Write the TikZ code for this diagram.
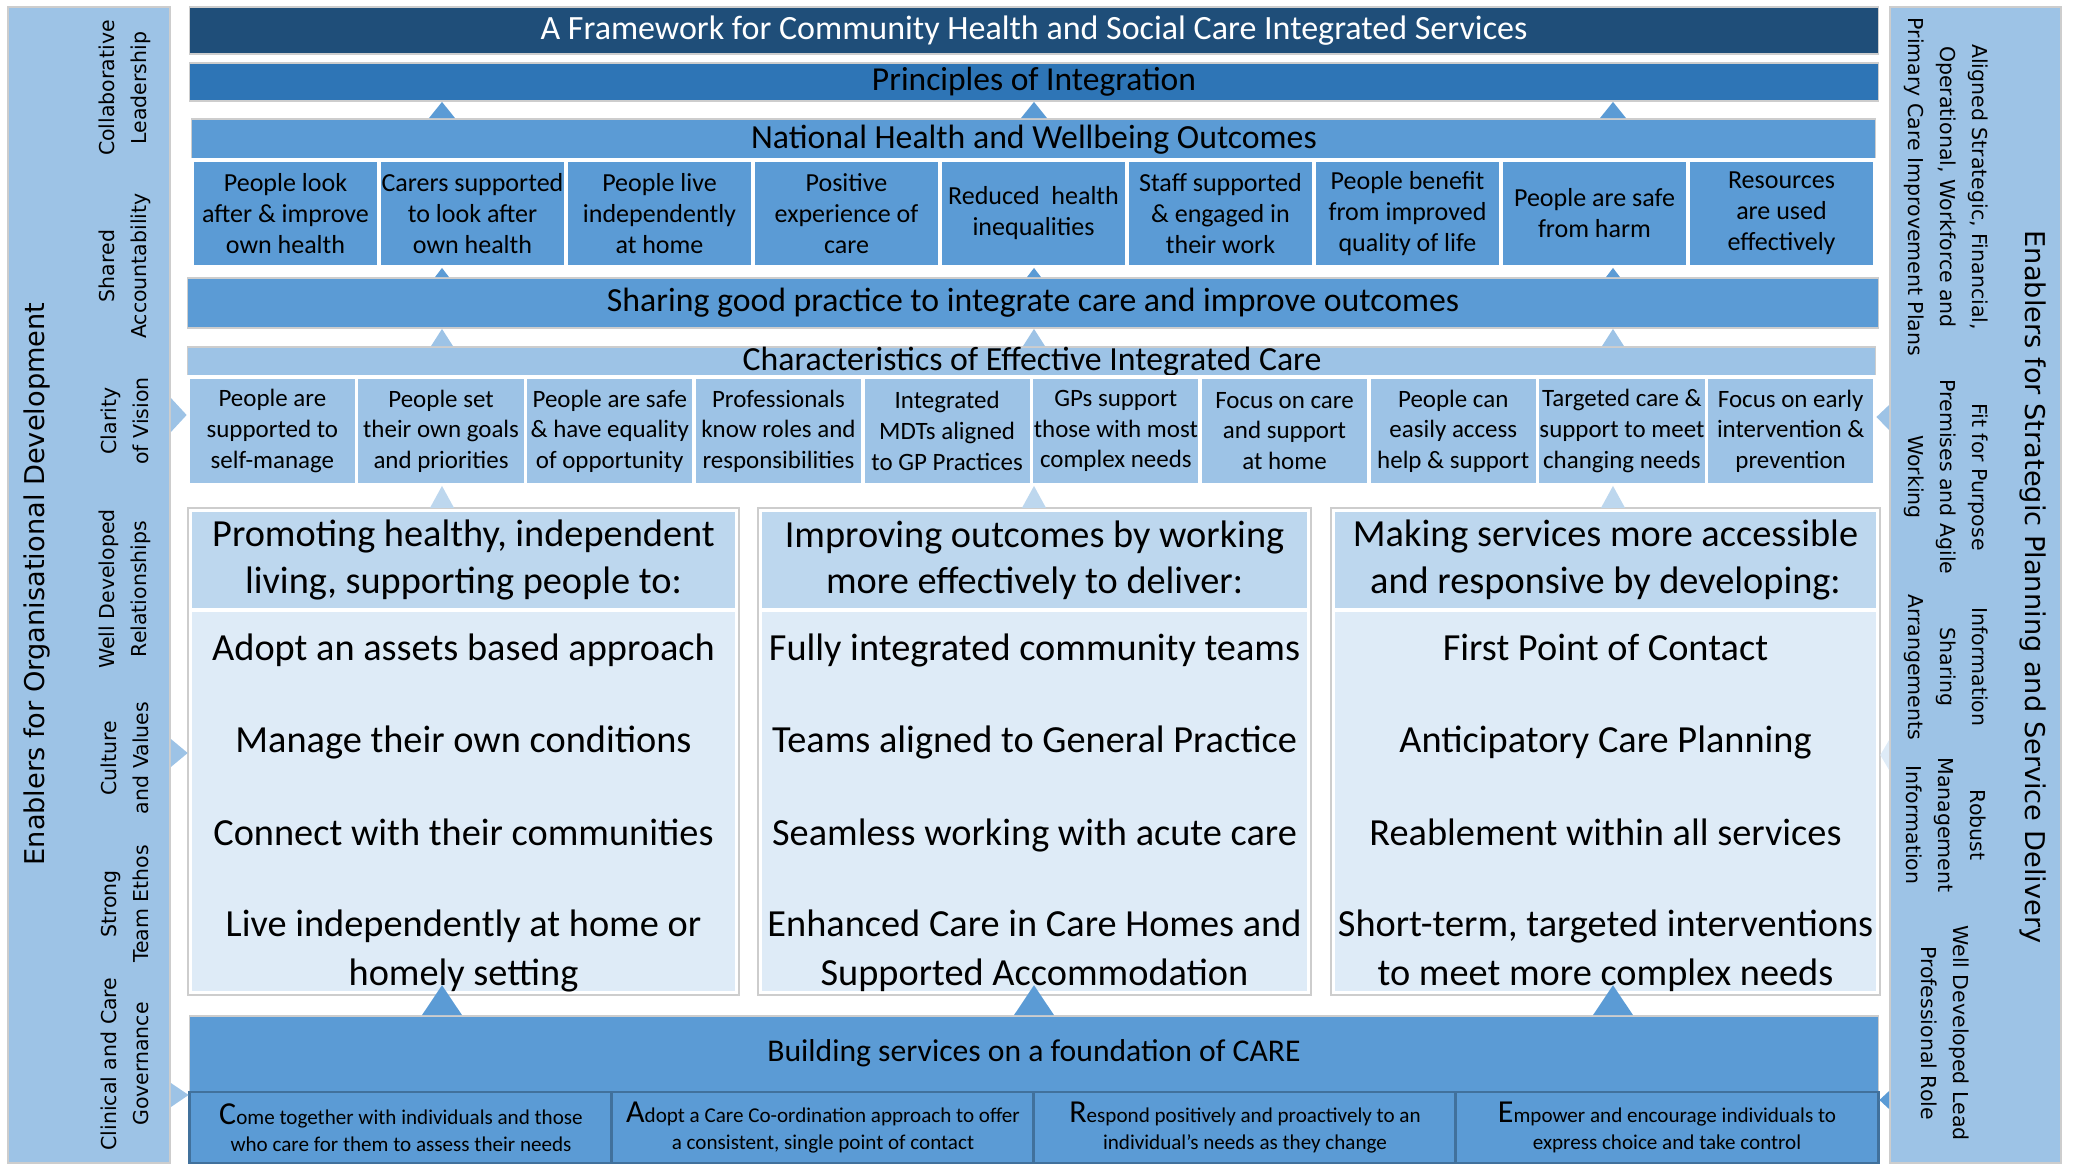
\documentclass[tikz,border=0pt]{standalone}
\usepackage{fontspec}
\setmainfont{Carlito}
\newfontfamily\sidefont{DejaVu Sans}
\usetikzlibrary{calc}
\definecolor{darkblue}{RGB}{31,78,121}
\definecolor{midblue}{RGB}{46,117,182}
\definecolor{medblue}{RGB}{91,155,213}
\definecolor{lightblue}{RGB}{157,195,230}
\definecolor{paleblue}{RGB}{189,215,238}
\definecolor{iceblue}{RGB}{222,235,247}
\definecolor{lineblue}{RGB}{65,113,156}
\definecolor{edgegray}{RGB}{205,205,205}
\newcommand{\bigletter}{\fontsize{9.1}{7.7}\selectfont}

\begin{document}
\begin{tikzpicture}[x=0.01cm,y=-0.01cm,
	box/.style={draw=edgegray,line width=0.5pt,inner sep=0pt},
	heading/.style={font=\fontsize{9.6}{11.5}\selectfont},
	outcell/.style={draw=white,line width=1pt,fill=medblue,inner sep=0pt,align=center,minimum width=1.87cm,minimum height=1.07cm,font=\fontsize{7.4}{8.8}\selectfont},
	charcell/.style={draw=white,line width=1pt,fill=lightblue,inner sep=0pt,align=center,minimum width=1.687cm,minimum height=1.08cm,font=\fontsize{7.1}{8.7}\selectfont},
	colhead/.style={draw=white,line width=1.2pt,fill=paleblue,inner sep=0pt,align=center,minimum height=1cm,font=\fontsize{10.9}{13.1}\selectfont},
	colbody/.style={draw=white,line width=1.2pt,fill=iceblue,inner sep=0pt,minimum height=3.83cm},
	item/.style={align=center,anchor=base,font=\fontsize{10.9}{13.7}\selectfont},
	carecell/.style={draw=lineblue,line width=0.8pt,fill=medblue,inner sep=0pt,align=center,minimum width=4.22cm,minimum height=0.71cm,font=\fontsize{6}{7.7}\selectfont},
	sidemain/.style={font=\sidefont\fontsize{7.74}{9}\selectfont},
	sidelabel/.style={align=center,font=\sidefont\fontsize{5.83}{9.2}\selectfont}]
\useasboundingbox (0,0) rectangle (2075,1163);

% side bars
\node[box,fill=lightblue,minimum width=1.62cm,minimum height=11.56cm] (lbar) at (89,585) {};
\node[box,fill=lightblue,minimum width=1.71cm,minimum height=11.56cm] (rbar) at (1975.5,585) {};

% title rows
\node[box,fill=darkblue,minimum width=16.88cm,minimum height=0.47cm,text=white,font=\fontsize{9.67}{11.6}\selectfont] (title) at (1034,30.5) {A Framework for Community Health and Social Care Integrated Services};
\node[box,fill=midblue,minimum width=16.88cm,minimum height=0.38cm,font=\fontsize{9.53}{11.4}\selectfont] (prin) at (1034,82) {Principles of Integration};

% outcomes
\node[box,fill=medblue,minimum width=16.83cm,minimum height=1.48cm] (outc) at (1033.5,193) {};
\node[heading] (outh) at (1034,140) {National Health and Wellbeing Outcomes};
\node[outcell] (o1) at (285.5,213.5) {People look\\after \& improve\\own health};
\node[outcell] (o2) at (472.5,213.5) {Carers supported\\to look after\\own health};
\node[outcell] (o3) at (659.5,213.5) {People live\\independently\\at home};
\node[outcell] (o4) at (846.5,213.5) {Positive\\experience of\\care};
\node[outcell] (o5) at (1033.5,213.5) {Reduced\ \ health\\inequalities};
\node[outcell] (o6) at (1220.5,213.5) {Staff supported\\\& engaged in\\their work};
\node[outcell] (o7) at (1407.5,213.5) {People benefit\\from improved\\quality of life};
\node[outcell] (o8) at (1594.5,213.5) {People are safe\\from harm};
\node[outcell] (o9) at (1781.5,213.5) {Resources\\are used\\effectively};

% sharing
\node[box,fill=medblue,minimum width=16.9cm,minimum height=0.5cm,heading] (share) at (1033,303) {Sharing good practice to integrate care and improve outcomes};

% characteristics
\node[box,fill=lightblue,minimum width=16.87cm,minimum height=1.38cm] (char) at (1031.5,416) {};
\node[heading] (charh) at (1032,362) {Characteristics of Effective Integrated Care};
\node[charcell] (k1) at (272.35,431) {People are\\supported to\\self-manage};
\node[charcell] (k2) at (441.05,431) {People set\\their own goals\\and priorities};
\node[charcell] (k3) at (609.75,431) {People are safe\\\& have equality\\of opportunity};
\node[charcell] (k4) at (778.45,431) {Professionals\\know roles and\\responsibilities};
\node[charcell] (k5) at (947.15,431) {Integrated\\MDTs aligned\\to GP Practices};
\node[charcell] (k6) at (1115.85,431) {GPs support\\those with most\\complex needs};
\node[charcell] (k7) at (1284.55,431) {Focus on care\\and support\\at home};
\node[charcell] (k8) at (1453.25,431) {People can\\easily access\\help \& support};
\node[charcell] (k9) at (1621.95,431) {Targeted care \&\\support to meet\\changing needs};
\node[charcell] (k10) at (1790.65,431) {Focus on early\\intervention \&\\prevention};

% three columns
\node[colhead,minimum width=5.47cm] (h1) at (463.5,560) {Promoting healthy, independent\\living, supporting people to:};
\node[colhead,minimum width=5.49cm] (h2) at (1034.5,560) {Improving outcomes by working\\more effectively to deliver:};
\node[colhead,minimum width=5.45cm] (h3) at (1605.5,560) {Making services more accessible\\and responsive by developing:};
\node[colbody,minimum width=5.47cm] (b1) at (463.5,801.5) {};
\node[colbody,minimum width=5.49cm] (b2) at (1034.5,801.5) {};
\node[colbody,minimum width=5.45cm] (b3) at (1605.5,801.5) {};
\draw[edgegray,line width=0.5pt] (h1.north west) rectangle (b1.south east);
\draw[edgegray,line width=0.5pt] (h2.north west) rectangle (b2.south east);
\draw[edgegray,line width=0.5pt] (h3.north west) rectangle (b3.south east);

% foundation of CARE
\node[box,fill=medblue,minimum width=16.88cm,minimum height=1.47cm] (care) at (1034,1089.5) {};
\node[font=\fontsize{9}{10.8}\selectfont] (careh) at (1034,1053) {Building services on a foundation of CARE};
\node[carecell] (f1) at (401,1127.5) {{\bigletter C}ome together with individuals and those\\who care for them to assess their needs};
\node[carecell] (f2) at (823,1127.5) {{\bigletter A}dopt a Care Co-ordination approach to offer\\a consistent, single point of contact};
\node[carecell] (f3) at (1245,1127.5) {{\bigletter R}espond positively and proactively to an\\individual’s needs as they change};
\node[carecell] (f4) at (1667,1127.5) {{\bigletter E}mpower and encourage individuals to\\express choice and take control};

% tabs between rows
\coordinate (c1) at (442,0);
\coordinate (c2) at (1034,0);
\coordinate (c3) at (1613,0);
\foreach \c in {c1,c2,c3} {
	\fill[medblue] ($(\c |- outc.north)+(-13,0)$) -- (\c |- prin.south) -- ($(\c |- outc.north)+(13,0)$) -- cycle;
	\fill[medblue] ($(\c |- share.north)+(-7,0)$) -- (\c |- outc.south) -- ($(\c |- share.north)+(7,0)$) -- cycle;
	\fill[lightblue] ($(\c |- char.north)+(-11,0)$) -- (\c |- share.south) -- ($(\c |- char.north)+(11,0)$) -- cycle;
	\fill[paleblue] ($(\c |- h1.north)+(-12,0)$) -- (\c |- char.south) -- ($(\c |- h1.north)+(12,0)$) -- cycle;
	\fill[medblue] ($(\c |- care.north)+(-20,0)$) -- ($(\c |- b1.south)+(0,-10)$) -- ($(\c |- care.north)+(20,0)$) -- cycle;
}

% side pointers
\fill[lightblue] (lbar.east |- 0,398) -- (char.west |- 0,415) -- (lbar.east |- 0,432) -- cycle;
\fill[lightblue] (lbar.east |- 0,739) -- (b1.west |- 0,753) -- (lbar.east |- 0,767) -- cycle;
\fill[lightblue] (lbar.east |- 0,1083) -- (care.west |- 0,1095) -- (lbar.east |- 0,1107) -- cycle;
\fill[lightblue] (rbar.west |- 0,405) -- (char.east |- 0,417) -- (rbar.west |- 0,430) -- cycle;
\fill[iceblue] (rbar.west |- 0,740) -- (b3.east |- 0,755) -- (rbar.west |- 0,770) -- cycle;
\fill[medblue] (rbar.west |- 0,1091) -- (care.east |- 0,1100) -- (rbar.west |- 0,1109) -- cycle;

% column items
\node[item] (p1) at (463.5,660) {Adopt an assets based approach};
\node[item] (p2) at (463.5,752) {Manage their own conditions};
\node[item] (p3) at (463.5,845) {Connect with their communities};
\node[item] (p4) at (463.5,985) {Live independently at home or\\homely setting};
\node[item] (q1) at (1034.5,660) {Fully integrated community teams};
\node[item] (q2) at (1034.5,752) {Teams aligned to General Practice};
\node[item] (q3) at (1034.5,845) {Seamless working with acute care};
\node[item] (q4) at (1034.5,985) {Enhanced Care in Care Homes and\\Supported Accommodation};
\node[item] (s1) at (1605.5,660) {First Point of Contact};
\node[item] (s2) at (1605.5,752) {Anticipatory Care Planning};
\node[item] (s3) at (1605.5,845) {Reablement within all services};
\node[item] (s4) at (1605.5,985) {Short-term, targeted interventions\\to meet more complex needs};

% side texts
\node[sidemain,rotate=90] (lmain) at (37,584) {Enablers for Organisational Development};
\node[sidelabel,rotate=90] (l1) at (125,88) {Collaborative\\Leadership};
\node[sidelabel,rotate=90] (l2) at (125,266) {Shared\\Accountability};
\node[sidelabel,rotate=90] (l3) at (125,421) {Clarity\\of Vision};
\node[sidelabel,rotate=90] (l4) at (125,589) {Well Developed\\Relationships};
\node[sidelabel,rotate=90] (l5) at (125,758) {Culture\\and Values};
\node[sidelabel,rotate=90] (l6) at (125,904) {Strong\\Team Ethos};
\node[sidelabel,rotate=90] (l7) at (125,1064) {Clinical and Care\\Governance};
\node[sidemain,rotate=-90] (rmain) at (2033,587) {Enablers for Strategic Planning and Service Delivery};
\node[sidelabel,rotate=-90] (r1) at (1946,187) {Aligned Strategic, Financial,\\Operational, Workforce and\\Primary Care Improvement Plans};
\node[sidelabel,rotate=-90] (r2) at (1946,477) {Fit for Purpose\\Premises and Agile\\Working};
\node[sidelabel,rotate=-90] (r3) at (1946,667) {Information\\Sharing\\Arrangements};
\node[sidelabel,rotate=-90] (r4) at (1946,825) {Robust\\Management\\Information};
\node[sidelabel,rotate=-90] (r5) at (1945,1033) {Well Developed Lead\\Professional Role};
\end{tikzpicture}
\end{document}
